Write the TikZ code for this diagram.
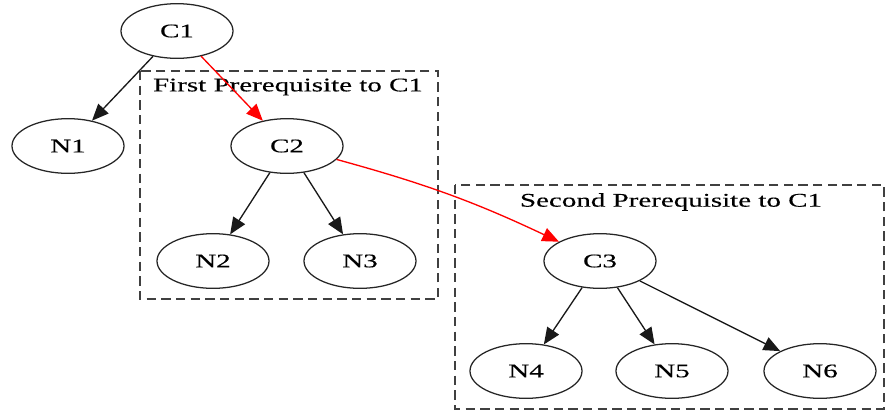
\documentclass[tikz,border=0pt]{standalone}
\usepackage{fontspec}
\setmainfont[FakeStretch=1.5,FakeBold=0.3]{Liberation Serif}
\usetikzlibrary{shapes.geometric,arrows.meta}
\begin{document}
\begin{tikzpicture}[x=0.75pt,y=-0.75pt,
  vnode/.style={draw=black!85,line width=0.95pt,ellipse,minimum width=84pt,minimum height=41pt,inner sep=0pt,font=\fontsize{14.5}{16}\selectfont},
  edge/.style={draw=black!90,line width=1pt,-{Triangle[length=12.5pt,width=10.5pt]}},
  redge/.style={edge,draw=red},
  cluster/.style={draw=black!75,line width=1pt,dash pattern=on 7pt off 4pt},
  clabel/.style={font=\fontsize{14.5}{16}\selectfont,inner sep=0pt}]
\useasboundingbox (0,0) rectangle (886,419);
% clusters
\draw[cluster] (140,71) rectangle (438,299);
\node[clabel] (l1) at (288,87) {First Prerequisite to C1};
\draw[cluster] (455,185) rectangle (884,409);
\node[clabel] (l2) at (671,202) {Second Prerequisite to C1};
% nodes
\node[vnode] (C1) at (177,31) {C1};
\node[vnode] (N1) at (68,146) {N1};
\node[vnode] (C2) at (287,146) {C2};
\node[vnode] (N2) at (213,261) {N2};
\node[vnode] (N3) at (360,261) {N3};
\node[vnode] (C3) at (600,261) {C3};
\node[vnode] (N4) at (526,371) {N4};
\node[vnode] (N5) at (672,371) {N5};
\node[vnode] (N6) at (820,371) {N6};
% edges
\draw[edge] (C1) -- (N1);
\draw[redge] (C1) -- (C2);
\draw[edge] (C2) -- (N2);
\draw[edge] (C2) -- (N3);
\draw[redge] (C2) to[bend left=5] (C3);
\draw[edge] (C3) -- (N4);
\draw[edge] (C3) -- (N5);
\draw[edge] (C3) -- (N6);
\end{tikzpicture}
\end{document}
